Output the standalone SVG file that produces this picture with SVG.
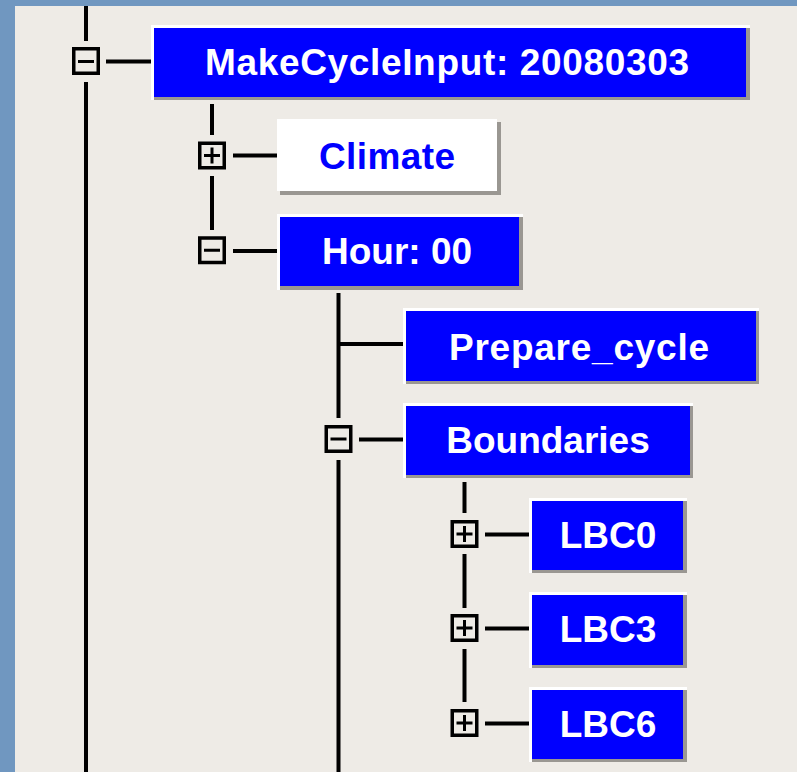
<svg xmlns="http://www.w3.org/2000/svg" width="797" height="772" viewBox="0 0 797 772">
<style>
.ln{stroke:#000;stroke-width:4;fill:none}
.bx{stroke:#000;stroke-width:3.5;fill:none}
.sg{stroke:#000;stroke-width:3;fill:none}
.hi{fill:#ffffff}
.sh{fill:#9a9792}
.bl{fill:#0000ff}
.t{font-family:"Liberation Sans",Arial,sans-serif;font-weight:bold;font-size:37px;text-anchor:middle;fill:#ffffff}
.tb{fill:#0000ff}
</style>
<rect x="0" y="0" width="797" height="772" fill="#eeebe6"/>
<rect x="0" y="0" width="797" height="6" fill="#7097c0"/>
<rect x="0" y="0" width="15" height="772" fill="#7097c0"/>

<g id="connectors">
<line class="ln" x1="86" y1="6" x2="86" y2="41"/>
<line class="ln" x1="86" y1="82" x2="86" y2="772"/>
<line class="ln" x1="106" y1="61.5" x2="151" y2="61.5"/>
<rect class="bx" x="73.75" y="48.75" width="24.5" height="24.5"/>
<line class="sg" x1="78" y1="61.5" x2="94" y2="61.5"/>

<line class="ln" x1="212" y1="104" x2="212" y2="135"/>
<line class="ln" x1="212" y1="176" x2="212" y2="230"/>
<rect class="bx" x="199.75" y="143.25" width="24.5" height="24.5"/>
<line class="sg" x1="204" y1="155.5" x2="220" y2="155.5"/>
<line class="sg" x1="212" y1="147.5" x2="212" y2="163.5"/>
<line class="ln" x1="233" y1="155.5" x2="277" y2="155.5"/>
<rect class="bx" x="199.75" y="238" width="24.5" height="24.5"/>
<line class="sg" x1="204" y1="250.25" x2="220" y2="250.25"/>
<line class="ln" x1="233" y1="251" x2="277" y2="251"/>

<line class="ln" x1="338.5" y1="293" x2="338.5" y2="418"/>
<line class="ln" x1="338.5" y1="344" x2="403" y2="344"/>
<rect class="bx" x="326.25" y="426.75" width="24.5" height="24.5"/>
<line class="sg" x1="330.5" y1="439" x2="346.5" y2="439"/>
<line class="ln" x1="359" y1="439.5" x2="403" y2="439.5"/>
<line class="ln" x1="338.5" y1="460" x2="338.5" y2="772"/>

<line class="ln" x1="464.5" y1="482" x2="464.5" y2="513"/>
<line class="ln" x1="464.5" y1="554" x2="464.5" y2="608"/>
<line class="ln" x1="464.5" y1="649" x2="464.5" y2="702"/>
<rect class="bx" x="452.25" y="521.75" width="24.5" height="24.5"/>
<line class="sg" x1="456.5" y1="534" x2="472.5" y2="534"/>
<line class="sg" x1="464.5" y1="526" x2="464.5" y2="542"/>
<line class="ln" x1="485" y1="534.5" x2="529" y2="534.5"/>
<rect class="bx" x="452.25" y="615.75" width="24.5" height="24.5"/>
<line class="sg" x1="456.5" y1="628" x2="472.5" y2="628"/>
<line class="sg" x1="464.5" y1="620" x2="464.5" y2="636"/>
<line class="ln" x1="485" y1="628.5" x2="529" y2="628.5"/>
<rect class="bx" x="452.25" y="710.75" width="24.5" height="24.5"/>
<line class="sg" x1="456.5" y1="723" x2="472.5" y2="723"/>
<line class="sg" x1="464.5" y1="715" x2="464.5" y2="731"/>
<line class="ln" x1="485" y1="723.5" x2="529" y2="723.5"/>
</g>

<g id="node-main">
<rect class="hi" x="151" y="25" width="599" height="75"/>
<rect class="sh" x="154" y="28" width="596" height="72"/>
<rect class="bl" x="154" y="28" width="592" height="69"/>
<text class="t" x="447" y="75" textLength="484" lengthAdjust="spacing">MakeCycleInput: 20080303</text>
</g>
<g id="node-climate">
<rect class="sh" x="280" y="122" width="221" height="73"/>
<rect class="hi" x="277" y="119" width="220" height="72"/>
<text class="t tb" x="387" y="169" textLength="136" lengthAdjust="spacing">Climate</text>
</g>
<g id="node-hour">
<rect class="hi" x="277" y="214" width="246" height="76"/>
<rect class="sh" x="280" y="217" width="243" height="73"/>
<rect class="bl" x="280" y="217" width="239" height="69"/>
<text class="t" x="397" y="264">Hour: 00</text>
</g>
<g id="node-prepare">
<rect class="hi" x="403" y="308" width="356" height="76"/>
<rect class="sh" x="406" y="311" width="353" height="73"/>
<rect class="bl" x="406" y="311" width="350" height="70"/>
<text class="t" x="579" y="360" textLength="260" lengthAdjust="spacing">Prepare_cycle</text>
</g>
<g id="node-boundaries">
<rect class="hi" x="403" y="403" width="290" height="75"/>
<rect class="sh" x="406" y="406" width="287" height="72"/>
<rect class="bl" x="406" y="406" width="284" height="69"/>
<text class="t" x="548" y="453">Boundaries</text>
</g>
<g id="node-lbc0">
<rect class="hi" x="529" y="498" width="158" height="75"/>
<rect class="sh" x="532" y="501" width="155" height="72"/>
<rect class="bl" x="532" y="501" width="151" height="69"/>
<text class="t" x="608" y="548">LBC0</text>
</g>
<g id="node-lbc3">
<rect class="hi" x="529" y="592" width="158" height="76"/>
<rect class="sh" x="532" y="595" width="155" height="73"/>
<rect class="bl" x="532" y="595" width="151" height="70"/>
<text class="t" x="608" y="642">LBC3</text>
</g>
<g id="node-lbc6">
<rect class="hi" x="529" y="687" width="158" height="75"/>
<rect class="sh" x="532" y="690" width="155" height="72"/>
<rect class="bl" x="532" y="690" width="151" height="69"/>
<text class="t" x="608" y="737">LBC6</text>
</g>
</svg>
